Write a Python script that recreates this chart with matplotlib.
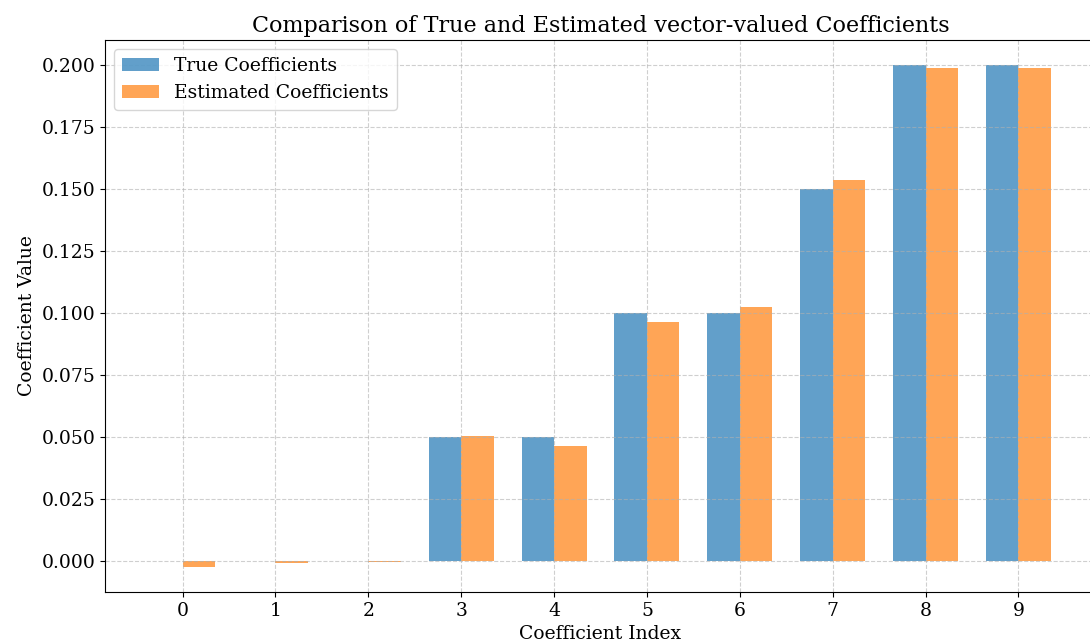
import matplotlib.pyplot as plt
import numpy as np

plt.rcParams['font.family'] = ['DejaVu Serif']

indices = np.arange(10)
true_coefs = [0.0, 0.0, 0.0, 0.05, 0.05, 0.10, 0.10, 0.15, 0.20, 0.20]
est_coefs = [-0.0022, -0.0008, -0.0004, 0.0505, 0.0467, 0.0965, 0.1026, 0.1536, 0.1987, 0.1987]

width = 0.35

fig = plt.figure(figsize=(10.9, 6.44), dpi=100)
ax = fig.add_axes([105 / 1090, 52 / 644, 991 / 1090, 552 / 644])

ax.bar(indices - width / 2, true_coefs, width, label='True Coefficients', alpha=0.7)
ax.bar(indices + width / 2, est_coefs, width, label='Estimated Coefficients', alpha=0.7)

ax.set_xticks(indices)
ax.tick_params(labelsize=13.5)
ax.set_xlabel('Coefficient Index', fontsize=13.5)
ax.set_ylabel('Coefficient Value', fontsize=13.5)
ax.set_title('Comparison of True and Estimated vector-valued Coefficients', fontsize=16)
ax.legend(fontsize=13.5, loc='upper left')
ax.grid(True, linestyle='--', alpha=0.6)

fig.savefig('out.png', dpi=100)
